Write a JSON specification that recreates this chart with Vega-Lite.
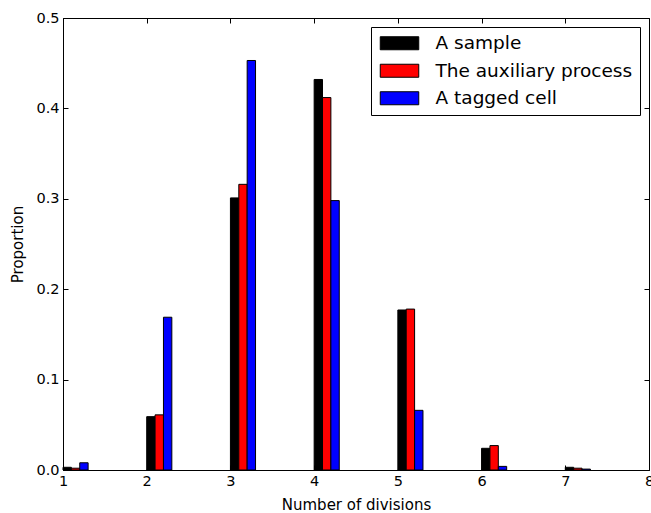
{
  "$schema": "https://vega.github.io/schema/vega-lite/v6.json",
  "width": 586,
  "height": 452,
  "autosize": {"type": "none"},
  "padding": {"left": 63, "top": 18, "right": 2, "bottom": 43},
  "background": "white",
  "config": {
    "font": "DejaVu Sans",
    "view": {"stroke": "black", "strokeWidth": 1},
    "axis": {
      "grid": false,
      "domainColor": "black",
      "tickColor": "black",
      "tickSize": -5,
      "labelFontSize": 14.5,
      "titleFontSize": 15,
      "labelColor": "black",
      "titleColor": "black",
      "titleFontWeight": "normal",
      "labelPadding": 9,
      "labelFlush": false
    },
    "legend": {
      "strokeColor": "black",
      "fillColor": "white",
      "padding": 7,
      "labelFontSize": 18.5,
      "labelColor": "black",
      "labelLimit": 400,
      "symbolStrokeColor": "black",
      "symbolStrokeWidth": 1,
      "symbolOpacity": 1,
      "rowPadding": 8.5,
      "cornerRadius": 0
    }
  },
  "data": {
    "values": [
      {"k": 1, "series": "A sample", "value": 0.003},
      {"k": 1, "series": "The auxiliary process", "value": 0.002},
      {"k": 1, "series": "A tagged cell", "value": 0.008},
      {"k": 2, "series": "A sample", "value": 0.059},
      {"k": 2, "series": "The auxiliary process", "value": 0.061},
      {"k": 2, "series": "A tagged cell", "value": 0.169},
      {"k": 3, "series": "A sample", "value": 0.301},
      {"k": 3, "series": "The auxiliary process", "value": 0.316},
      {"k": 3, "series": "A tagged cell", "value": 0.453},
      {"k": 4, "series": "A sample", "value": 0.432},
      {"k": 4, "series": "The auxiliary process", "value": 0.412},
      {"k": 4, "series": "A tagged cell", "value": 0.298},
      {"k": 5, "series": "A sample", "value": 0.177},
      {"k": 5, "series": "The auxiliary process", "value": 0.178},
      {"k": 5, "series": "A tagged cell", "value": 0.066},
      {"k": 6, "series": "A sample", "value": 0.024},
      {"k": 6, "series": "The auxiliary process", "value": 0.027},
      {"k": 6, "series": "A tagged cell", "value": 0.004},
      {"k": 7, "series": "A sample", "value": 0.003},
      {"k": 7, "series": "The auxiliary process", "value": 0.002},
      {"k": 7, "series": "A tagged cell", "value": 0.001}
    ]
  },
  "transform": [
    {"calculate": "indexof(['A sample','The auxiliary process','A tagged cell'], datum.series)", "as": "idx"},
    {"calculate": "datum.k + 0.1 * datum.idx", "as": "x0"},
    {"calculate": "datum.x0 + 0.1", "as": "x1"}
  ],
  "layer": [
    {
      "mark": {"type": "bar", "stroke": "black", "strokeWidth": 1, "opacity": 1},
      "encoding": {
        "x": {
          "field": "x0",
          "type": "quantitative",
          "scale": {"domain": [1, 8], "nice": false, "zero": false},
          "axis": {"values": [1, 2, 3, 4, 5, 6, 7, 8], "format": "d", "title": "Number of divisions", "orient": "bottom", "titlePadding": 10}
        },
        "x2": {"field": "x1"},
        "y": {
          "field": "value",
          "type": "quantitative",
          "scale": {"domain": [0, 0.5], "nice": false, "zero": false},
          "axis": {"values": [0, 0.1, 0.2, 0.3, 0.4, 0.5], "format": ".1f", "title": "Proportion", "orient": "left", "titlePadding": 10}
        },
        "y2": {"datum": 0},
        "color": {
          "field": "series",
          "type": "nominal",
          "scale": {"domain": ["A sample", "The auxiliary process", "A tagged cell"], "range": ["#000000", "#ff0000", "#0000ff"]},
          "legend": {
            "title": null,
            "orient": "top-right",
            "offset": 9,
            "symbolType": "M-1,-0.93L4.5,-0.93L4.5,0.93L-1,0.93Z",
            "symbolSize": 196,
            "labelOffset": 39
          }
        }
      }
    },
    {
      "mark": {"type": "bar", "opacity": 0},
      "encoding": {
        "x": {
          "field": "x0",
          "type": "quantitative",
          "scale": {"domain": [1, 8], "nice": false, "zero": false},
          "axis": {"values": [1, 2, 3, 4, 5, 6, 7, 8], "orient": "top", "labels": false, "domain": false, "title": null}
        },
        "x2": {"field": "x1"},
        "y": {
          "field": "value",
          "type": "quantitative",
          "scale": {"domain": [0, 0.5], "nice": false, "zero": false},
          "axis": {"values": [0, 0.1, 0.2, 0.3, 0.4, 0.5], "orient": "right", "labels": false, "domain": false, "title": null}
        },
        "y2": {"datum": 0}
      }
    }
  ],
  "resolve": {"axis": {"x": "independent", "y": "independent"}}
}
